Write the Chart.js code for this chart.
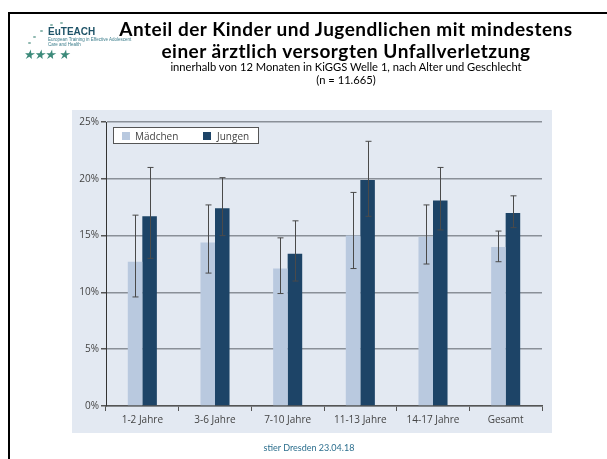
<!DOCTYPE html>
<html>
<head>
<meta charset="utf-8">
<script src="https://cdn.jsdelivr.net/npm/chart.js@4"></script>
<style>
  html, body { margin:0; padding:0; background:#fff; }
  #page { position:relative; width:607px; height:459px; overflow:hidden; background:#fff; }
  #frame { position:absolute; left:8px; top:12px; width:620px; height:470px; border:2px solid #000; box-sizing:border-box; }
  #panel { position:absolute; left:72px; top:110px; width:480px; height:323px; background:#e3e9f2; }
  .t { position:absolute; left:96px; width:500px; text-align:center; white-space:nowrap; color:#000; }
  #t1 { top:17px; font:bold 19px Lato, "Open Sans", sans-serif; letter-spacing:0.5px; }
  #t2 { top:39px; font:bold 19px Lato, "Open Sans", sans-serif; letter-spacing:0.5px; }
  #t3 { top:60px; font:11.2px Lato, "Open Sans", sans-serif; }
  #t4 { top:73px; font:11.2px Lato, "Open Sans", sans-serif; }
  #foot { position:absolute; left:209px; width:200px; top:442px; text-align:center; font:9px Lato, "Open Sans", sans-serif; color:#2d6f8e; }
  #logo1 { position:absolute; left:48px; top:26px; font:bold 10px "Liberation Sans", Arial, sans-serif; color:#1f5468; }
  #logo2 { position:absolute; left:48px; top:37px; font:4.5px "Liberation Sans", Arial, sans-serif; color:#3a7c8a; line-height:5px; white-space:nowrap; }
  #stars { position:absolute; left:24px; top:47px; font:13px "DejaVu Sans", sans-serif; color:#3c8a7a; letter-spacing:-1px; transform:skewX(-12deg); }
  .dot { position:absolute; width:3px; height:2px; background:#8fb8b0; border-radius:1px; }
  #legend { position:absolute; left:113px; top:127px; width:146px; height:17px; background:#fff; border:1px solid #555; box-sizing:border-box; font:10px "Open Sans", sans-serif; color:#444; }
  .sw { position:absolute; top:4px; width:8px; height:8px; }
  .lt { position:absolute; top:1px; }
  canvas { position:absolute; left:0; top:0; }
</style>
</head>
<body>
<div id="page">
  <div id="panel"></div>
  <canvas id="c" width="607" height="459"></canvas>
  <div id="frame"></div>
  <div id="logo1">EuTEACH</div>
  <div id="logo2">European Training in Effective Adolescent<br>Care and Health</div>
  <div id="stars">★★★ ★</div>
  <div class="dot" style="left:40px;top:30px"></div>
  <div class="dot" style="left:33px;top:36px"></div>
  <div class="dot" style="left:28px;top:42px"></div>
  <div class="dot" style="left:50px;top:24px"></div>
  <div class="dot" style="left:60px;top:22px"></div>
  <div class="t" id="t1">Anteil der Kinder und Jugendlichen mit mindestens</div>
  <div class="t" id="t2">einer ärztlich versorgten Unfallverletzung</div>
  <div class="t" id="t3">innerhalb von 12 Monaten in KiGGS Welle 1, nach Alter und Geschlecht</div>
  <div class="t" id="t4">(n = 11.665)</div>
  <div id="legend">
    <div class="sw" style="left:8px;background:#b9c9df"></div><div class="lt" style="left:21px">Mädchen</div>
    <div class="sw" style="left:89px;background:#1d4467"></div><div class="lt" style="left:103px">Jungen</div>
  </div>
  <div id="foot">stier Dresden 23.04.18</div>
</div>
<script>
const categories = ['1-2 Jahre','3-6 Jahre','7-10 Jahre','11-13 Jahre','14-17 Jahre','Gesamt'];
const seriesNames = ['Mädchen','Jungen'];
const maedchen     = [12.7, 14.4, 12.1, 15.0, 14.9, 14.0];
const maedchenLow  = [ 9.6, 11.7,  9.9, 12.1, 12.5, 12.7];
const maedchenHigh = [16.8, 17.7, 14.8, 18.8, 17.7, 15.4];
const jungen       = [16.7, 17.4, 13.4, 19.9, 18.1, 17.0];
const jungenLow    = [13.0, 15.0, 11.0, 16.7, 15.5, 15.7];
const jungenHigh   = [21.0, 20.1, 16.3, 23.3, 21.0, 18.5];
const yTicks = [0, 5, 10, 15, 20, 25];

const errorBars = {
  id: 'errorBars',
  afterDatasetsDraw(chart) {
    const ctx = chart.ctx, ys = chart.scales.y;
    const ranges = [[maedchenLow, maedchenHigh], [jungenLow, jungenHigh]];
    ctx.save();
    ctx.strokeStyle = '#4a4a4a';
    ctx.lineWidth = 1;
    ranges.forEach((r, i) => {
      chart.getDatasetMeta(i).data.forEach((el, j) => {
        const x = Math.round(el.x) + 0.5;
        const yl = ys.getPixelForValue(r[0][j]);
        const yh = ys.getPixelForValue(r[1][j]);
        ctx.beginPath();
        ctx.moveTo(x, yl); ctx.lineTo(x, yh);
        ctx.moveTo(x - 3, yl); ctx.lineTo(x + 3, yl);
        ctx.moveTo(x - 3, yh); ctx.lineTo(x + 3, yh);
        ctx.stroke();
      });
    });
    ctx.restore();
  }
};

new Chart(document.getElementById('c'), {
  type: 'bar',
  data: {
    labels: categories,
    datasets: [
      { label: seriesNames[0], data: maedchen, backgroundColor: '#b9c9df' },
      { label: seriesNames[1], data: jungen, backgroundColor: '#1d4467' }
    ]
  },
  options: {
    responsive: false,
    animation: false,
    events: [],
    layout: { padding: { left: 72, right: 65, top: 122, bottom: 25 } },
    datasets: { bar: { categoryPercentage: 0.4, barPercentage: 1.0 } },
    plugins: { legend: { display: false }, tooltip: { enabled: false } },
    scales: {
      x: {
        afterFit: s => { s.height = 28; },
        grid: { offset: true, drawOnChartArea: false, drawTicks: true, tickLength: 5, color: '#555', lineWidth: 1 },
        border: { display: true, color: '#555', width: 1.5 },
        ticks: { color: '#444', padding: 3, font: { family: 'Open Sans', size: 10 } }
      },
      y: {
        min: 0, max: 25,
        afterFit: s => { s.width = 34; },
        afterBuildTicks: s => { s.ticks = yTicks.map(v => ({ value: v })); },
        grid: { color: '#8a9098', lineWidth: 1.5, tickLength: 5, tickColor: '#555' },
        border: { display: true, color: '#333', width: 1 },
        ticks: { color: '#444', padding: 2, font: { family: 'Open Sans', size: 10 }, callback: v => v + '%' }
      }
    }
  },
  plugins: [errorBars]
});
</script>
</body>
</html>
